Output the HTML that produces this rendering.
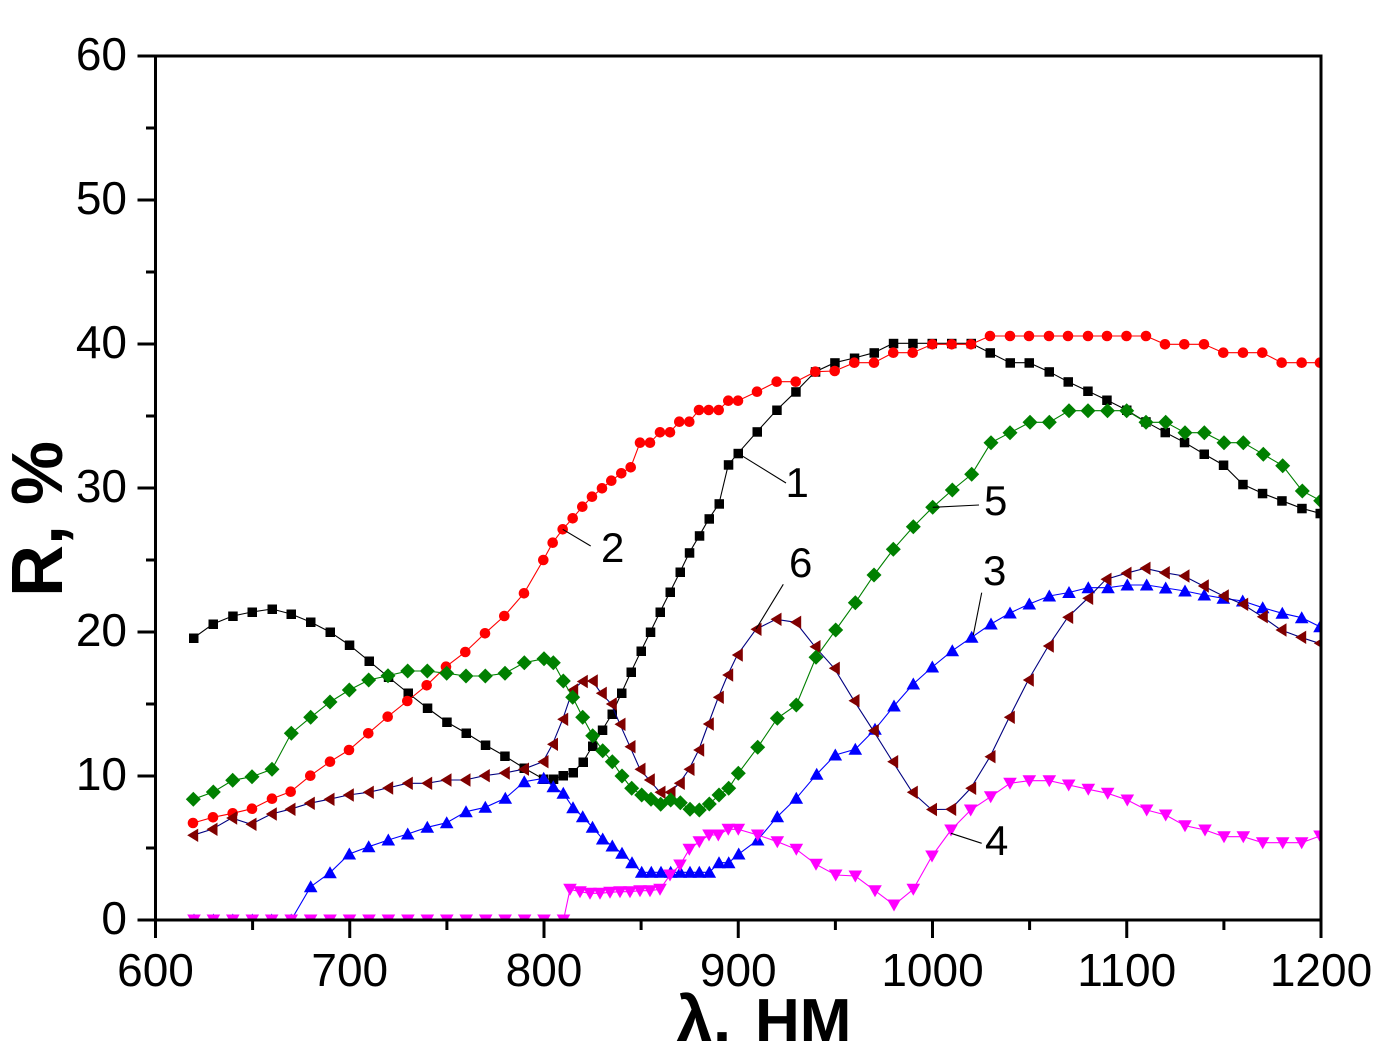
<!DOCTYPE html>
<html><head><meta charset="utf-8"><style>
html,body{margin:0;padding:0;background:#fff;}
svg{display:block;}
text{font-family:"Liberation Sans",Arial,sans-serif;}
</style></head><body>
<svg width="1396" height="1041" viewBox="0 0 1396 1041" xmlns="http://www.w3.org/2000/svg">
<defs>
<clipPath id="plot"><rect x="155" y="56" width="1166" height="864"/></clipPath>
<marker id="mSq" markerUnits="userSpaceOnUse" markerWidth="10" markerHeight="10" refX="5" refY="5" overflow="visible"><rect x="0.5" y="0.5" width="9.5" height="9.5" fill="#000"/></marker>
<marker id="mCi" markerUnits="userSpaceOnUse" markerWidth="12" markerHeight="12" refX="6" refY="6" overflow="visible"><circle cx="6" cy="6" r="5.3" fill="#ff0000"/></marker>
<marker id="mUp" markerUnits="userSpaceOnUse" markerWidth="14" markerHeight="14" refX="7" refY="7" overflow="visible"><path d="M7,0.5 L13.8,12.5 L0.2,12.5 Z" fill="#0000ff"/></marker>
<marker id="mDn" markerUnits="userSpaceOnUse" markerWidth="14" markerHeight="14" refX="7" refY="7" overflow="visible"><path d="M0.2,1.5 L13.8,1.5 L7,13.5 Z" fill="#ff00ff"/></marker>
<marker id="mDi" markerUnits="userSpaceOnUse" markerWidth="16" markerHeight="16" refX="8" refY="8" overflow="visible"><path d="M8,0.5 L15.5,8 L8,15.5 L0.5,8 Z" fill="#008000"/></marker>
<marker id="mLt" markerUnits="userSpaceOnUse" markerWidth="14" markerHeight="14" refX="7" refY="7" overflow="visible"><path d="M1.5,7 L12.5,0.3 L12.5,13.7 Z" fill="#800000"/></marker>
</defs>

<g clip-path="url(#plot)" fill="none" stroke-width="1.1">
<!-- Series 1 black squares -->
<polyline stroke="#000" marker-start="url(#mSq)" marker-mid="url(#mSq)" marker-end="url(#mSq)" points="193.5,638 213,624 232.7,616 252,612 272,609 291,614 310.5,622 330,632 349.3,645 369,661 388.3,677 408,693 427.3,708 446.7,722 466,733 485.3,745 504.7,756 524,768 543.3,779 553.3,779 563,775.5 573,772.5 583,762 592.5,746 602.3,730 612,714 621.5,693 631,672 641,651 650.3,632 660,612 670,592 680,572 689.3,552.7 699.3,535.7 709,518.7 719,503.7 728.3,464.7 738,453.3 757,431.7 776.7,410 795.7,391.7 815.3,371.7 834.7,362.7 854.3,358 874,352.7 893.3,343.3 912.7,343.3 932,343.3 951.5,343.3 971,343.3 990,352.7 1010,362.7 1029,362.7 1049,371.7 1068,381.7 1087.7,391 1106.7,400 1126.5,410 1145.7,421.7 1165,432.3 1184.3,442.3 1204,454 1223.3,465 1242.7,484.3 1262.3,493.3 1281.7,500.7 1301.7,508.3 1320,513.3"/>
<!-- Series 2 red circles -->
<polyline stroke="#ff0000" marker-start="url(#mCi)" marker-mid="url(#mCi)" marker-end="url(#mCi)" points="193,823 213,817.3 232.7,813.3 252,808.7 272,798.7 290.7,791.7 310.3,775.7 330,761.7 349,750 368.3,733.3 387.7,716.7 407.3,701 426.7,685.3 446,666.7 465.3,652 485,633.3 504.3,616 524,593.3 543.3,560 552.7,542.7 562.7,529.3 572.7,518.3 582.3,506.7 592,496.7 602,488.3 611.3,480.7 621.3,473.3 630.7,467.3 640,442.7 650,442.7 660,432.3 670,432.3 679.3,421.7 689.3,421.7 699,410 708.7,410 718.7,410 728.3,400.7 738,400.7 757,391.7 776.7,381.7 795.7,381.7 815.3,371.7 834.7,371 854.3,362.7 874,362.7 893.3,352.7 912.7,352.7 932.3,344.3 951.7,344.3 971,344.3 990,336 1010,336 1029,336 1049,336 1068,336 1088,336 1107,336 1126.5,336 1146,336 1165,344.3 1184.3,344.3 1204,344.3 1223.3,352.7 1243,352.7 1262.3,352.7 1281.7,362.7 1301.7,362.7 1320,362.7"/>
<!-- Series 3 blue up triangles -->
<polyline stroke="#0000ff" marker-start="url(#mUp)" marker-mid="url(#mUp)" marker-end="url(#mUp)" points="194,920 213.4,920 232.8,920 252.3,920 271.7,920 291.2,920 310.7,886.7 330,872.7 349.3,854 368.7,846.7 388.3,840 407.7,834 427.3,827.3 446.7,822.7 466,811.7 485.3,807.3 505.3,798.3 524.3,781.7 543.7,778.3 553.3,786.7 563.3,793.3 573,807.7 582.7,816.7 592.5,827.3 602.7,839 612.3,846 622,853.3 632,862.7 641.7,872.3 651.3,872.3 661,872.3 670.7,872.3 680.3,872.3 690,872.3 699.3,872.3 709.3,872.3 719,862.7 728.7,862.7 738.7,854 757.7,840 777.3,816.7 796.3,798.3 816.7,774.3 835.3,755 855.3,749.3 875,729.3 894,706 913.3,684 932.3,667 952.3,650.7 971.7,637.3 991,624 1010,613 1029.3,604 1049.3,596 1069,592.5 1088.3,587.7 1108,587.7 1127.3,585 1146.7,585 1165.7,588 1185,591 1204.3,595 1223.3,598.3 1242.7,601 1262.7,607.7 1282.3,613.3 1301.7,617.7 1320,626.7"/>
<!-- Series 4 magenta down triangles -->
<polyline stroke="#ff00ff" marker-start="url(#mDn)" marker-mid="url(#mDn)" marker-end="url(#mDn)" points="194,920 213.4,920 232.8,920 252.3,920 271.7,920 291.2,920 310.6,920 330,920 349.5,920 369,920 388.4,920 407.9,920 427.3,920 446.8,920 466.2,920 485.7,920 505.1,920 524.6,920 544,920 563.5,920 570,889.3 580,891.7 590,893.3 600,893.3 610,892.3 620,891.7 630,891.7 640,890.7 650,890.7 660,889.3 670,875 680,865 689.3,849.3 699.3,841.7 709,835 718.3,835 728.3,829.3 738.3,829.3 757.7,835 777.3,841.7 796.3,849.3 816,864.3 835.7,875 855.3,876 875,890.7 894,905 913.3,889.3 932,856 951,830 970.7,810 990.7,796.7 1010,783.3 1029.3,780.7 1049.3,780.7 1068.7,785 1088.3,789.3 1107.7,793.3 1127.3,800 1146.7,810 1165.7,815 1185,825.7 1205,830 1224,836.7 1243.3,836.7 1262.7,842.7 1282.7,842.7 1301.7,842.7 1320,836"/>
<!-- Series 6 dark red left triangles -->
<polyline stroke="#000080" marker-start="url(#mLt)" marker-mid="url(#mLt)" marker-end="url(#mLt)" points="192.7,835.3 212,829.3 231.7,818 251,824.3 271.3,814 290,809.3 309.3,803.3 329,799.3 348.3,795 368.3,792.3 387.7,788 407.3,783.3 426.7,783.3 446,780 465,780 484.3,775.7 504.3,773 523.5,769.2 543,761.7 552.5,744.3 562.7,719.3 572.7,690 582.3,681.5 592.3,681 601.3,693.3 611.3,704 620,724.3 630,746.7 640,769.3 649.3,780 660,792.3 670,792.3 679.3,783.3 689,769.3 698.7,750 708.3,724 718.3,697.3 727.7,675 737.3,655 756,629.3 776,619.3 795.7,622.3 815,646.7 834.3,668.3 854,700.7 873.3,730.7 892.7,761.7 912.3,792.3 931.5,809.5 950.7,809.3 970.7,788.3 990,756.7 1009.3,717.3 1028.3,680 1048.3,646 1067.7,617.3 1087.7,598.3 1106,579.3 1126,573.3 1145,568.3 1164.3,572.7 1184,576 1203.3,586 1223.3,596 1242.7,604.3 1262.3,616.7 1281,630 1300.7,637.3 1319.3,643.3"/>
<!-- Series 5 green diamonds -->
<polyline stroke="#008000" marker-start="url(#mDi)" marker-mid="url(#mDi)" marker-end="url(#mDi)" points="193.3,799.3 213.3,792 232.7,780.3 252,776.7 272,769.3 291.3,733.3 310.7,717.3 330,702 349.3,690 368.7,680 388,675.7 407.7,671 427.3,671 446.7,673.3 466,676 485.3,676 505,673.3 524.3,662.7 544,658.7 553.3,662.7 563.3,681 572.7,697.3 582.7,717.3 592.7,735.7 602.7,750.7 612.3,761.7 622,776 631.7,788.3 641.7,795 651,799.3 660.7,804.3 670.7,800 680.3,802.7 690,809.3 699.3,810 709.3,804 719,795 728.7,788.3 738.3,773.3 757.7,747.3 777.3,718.3 796.3,705 816,657.3 835.7,630 855.3,602.7 874,575 893.3,549.3 913.3,526.7 932.7,507.3 952.3,490 971.7,474.3 991,442.7 1010,432.7 1030,422.3 1049.3,422.3 1069,410.7 1088,410.7 1107.5,410.7 1126.7,410.7 1146,422.3 1165.7,422.3 1185,432.7 1204.3,432.7 1224,442.7 1243.3,442.7 1263.3,454.3 1282.7,465.7 1302.3,491 1320.7,500.7"/>
</g>

<!-- leader lines -->
<g stroke="#000" stroke-width="1.1" fill="none">
<line x1="738" y1="453.3" x2="786" y2="483"/>
<line x1="562.7" y1="529.3" x2="590.7" y2="546"/>
<line x1="783.3" y1="584.3" x2="756" y2="629"/>
<line x1="932.7" y1="507.3" x2="979" y2="505"/>
<line x1="981.7" y1="592.7" x2="973.3" y2="635"/>
<line x1="951" y1="833.3" x2="981.7" y2="843.3"/>
</g>
<g font-size="42" fill="#000">
<text x="785.5" y="497">1</text>
<text x="601" y="562">2</text>
<text x="789" y="577">6</text>
<text x="984" y="515">5</text>
<text x="983" y="585">3</text>
<text x="985" y="855">4</text>
</g>

<!-- axes frame -->
<g stroke="#000" stroke-width="3" fill="none" stroke-linecap="butt">
<rect x="155.5" y="56" width="1165.5" height="864"/>
<!-- y major ticks -->
<line x1="137.5" y1="920" x2="155.5" y2="920"/>
<line x1="137.5" y1="776" x2="155.5" y2="776"/>
<line x1="137.5" y1="632" x2="155.5" y2="632"/>
<line x1="137.5" y1="488" x2="155.5" y2="488"/>
<line x1="137.5" y1="344" x2="155.5" y2="344"/>
<line x1="137.5" y1="200" x2="155.5" y2="200"/>
<line x1="137.5" y1="56" x2="155.5" y2="56"/>
<!-- y minor -->
<line x1="146" y1="848" x2="155.5" y2="848"/>
<line x1="146" y1="704" x2="155.5" y2="704"/>
<line x1="146" y1="560" x2="155.5" y2="560"/>
<line x1="146" y1="416" x2="155.5" y2="416"/>
<line x1="146" y1="272" x2="155.5" y2="272"/>
<line x1="146" y1="128" x2="155.5" y2="128"/>
<!-- x major -->
<line x1="155.5" y1="920" x2="155.5" y2="938"/>
<line x1="349.75" y1="920" x2="349.75" y2="938"/>
<line x1="544" y1="920" x2="544" y2="938"/>
<line x1="738.25" y1="920" x2="738.25" y2="938"/>
<line x1="932.5" y1="920" x2="932.5" y2="938"/>
<line x1="1126.75" y1="920" x2="1126.75" y2="938"/>
<line x1="1321" y1="920" x2="1321" y2="938"/>
<!-- x minor -->
<line x1="252.6" y1="920" x2="252.6" y2="930"/>
<line x1="446.9" y1="920" x2="446.9" y2="930"/>
<line x1="641.1" y1="920" x2="641.1" y2="930"/>
<line x1="835.4" y1="920" x2="835.4" y2="930"/>
<line x1="1029.6" y1="920" x2="1029.6" y2="930"/>
<line x1="1223.9" y1="920" x2="1223.9" y2="930"/>
</g>

<!-- tick labels -->
<g font-size="46" fill="#000" text-anchor="end">
<text x="127" y="934">0</text>
<text x="127" y="790">10</text>
<text x="127" y="646">20</text>
<text x="127" y="502">30</text>
<text x="127" y="358">40</text>
<text x="127" y="214">50</text>
<text x="127" y="70">60</text>
</g>
<g font-size="46" fill="#000" text-anchor="middle">
<text x="155.5" y="986">600</text>
<text x="349.75" y="986">700</text>
<text x="544" y="986">800</text>
<text x="738.25" y="986">900</text>
<text x="932.5" y="986">1000</text>
<text x="1126.75" y="986">1100</text>
<text x="1321" y="986">1200</text>
</g>

<!-- axis titles -->
<text x="676" y="1042" font-size="66" font-weight="bold" fill="#000">λ,</text>
<text x="755" y="1042" font-size="62" font-weight="bold" fill="#000">HM</text>
<text transform="translate(62,597) rotate(-90)" font-size="72" font-weight="bold" fill="#000">R, %</text>
</svg>
</body></html>
